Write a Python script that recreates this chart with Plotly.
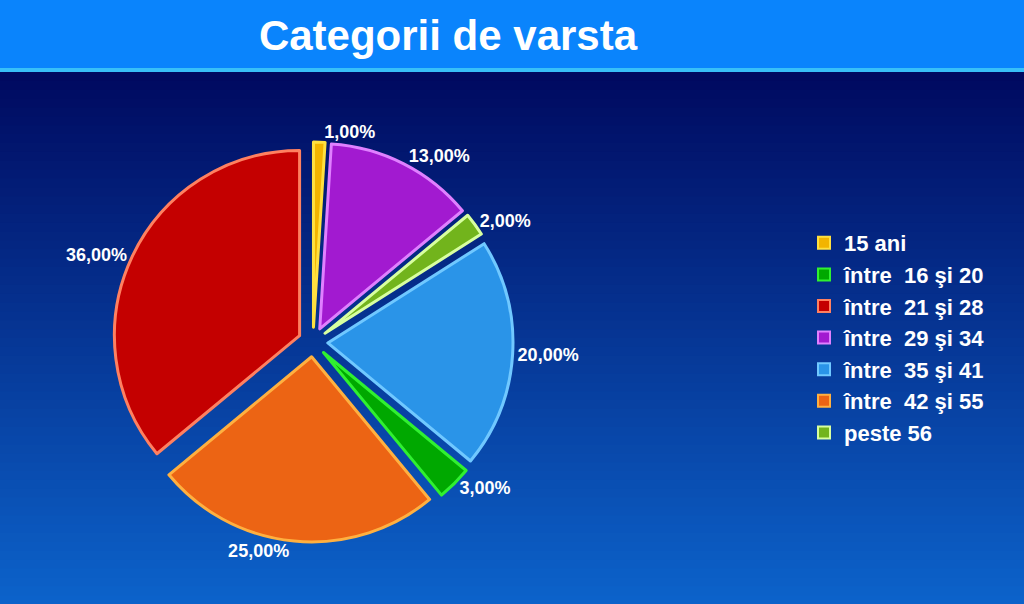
import plotly.graph_objects as go

# data (slice order clockwise from 12 o'clock)
pie_labels = ["15 ani", "între  29 şi 34", "peste 56", "între  35 şi 41",
              "între  16 şi 20", "între  42 şi 55", "între  21 şi 28"]
pie_values = [1, 13, 2, 20, 3, 25, 36]
pie_text = ["1,00%", "13,00%", "2,00%", "20,00%", "3,00%", "25,00%", "36,00%"]

legend_labels = ["15 ani", "între  16 şi 20", "între  21 şi 28", "între  29 şi 34",
                 "între  35 şi 41", "între  42 şi 55", "peste 56"]

fill = {
    "15 ani": "#f2b400",
    "între  16 şi 20": "#00a800",
    "între  21 şi 28": "#c40000",
    "între  29 şi 34": "#a21ad0",
    "între  35 şi 41": "#2a94e8",
    "între  42 şi 55": "#ec6414",
    "peste 56": "#72b41c",
}
edge = {
    "15 ani": "#ffe040",
    "între  16 şi 20": "#30f030",
    "între  21 şi 28": "#ff8060",
    "între  29 şi 34": "#e080ff",
    "între  35 şi 41": "#70c8ff",
    "între  42 şi 55": "#ffb040",
    "peste 56": "#d8ffa0",
}

W, H = 1024, 604

fig = go.Figure()
fig.add_trace(go.Pie(
    labels=pie_labels, values=pie_values, text=pie_text,
    sort=False, direction="clockwise", rotation=0,
    textinfo="text", textposition="outside",
    textfont=dict(family="Liberation Sans, Arial", size=18, color="white", weight="bold"),
    marker=dict(colors=[fill[l] for l in pie_labels],
                line=dict(color=[edge[l] for l in pie_labels], width=3)),
    pull=[0.08] * len(pie_values),
    showlegend=False, hoverinfo="label+text",
    domain=dict(x=[113 / W, 513 / W], y=[1 - 542 / H, 1 - 142 / H]),
    automargin=False,
))

for lab in legend_labels:
    fig.add_trace(go.Scatter(
        x=[None], y=[None], mode="markers", name=lab,
        marker=dict(symbol="square", size=19, color=fill[lab],
                    line=dict(color=edge[lab], width=3)),
    ))

# background gradient
shapes = []
n = 60
top_c = (0, 10, 96)
bot_c = (12, 98, 202)
y0 = 72
for i in range(n):
    t = i / (n - 1)
    c = tuple(int(round(top_c[k] + (bot_c[k] - top_c[k]) * t)) for k in range(3))
    ya = y0 + (H - y0) * i / n
    yb = y0 + (H - y0) * (i + 1) / n + 1
    shapes.append(dict(type="rect", xref="paper", yref="paper", layer="below",
                       x0=0, x1=1, y0=1 - yb / H, y1=1 - ya / H,
                       fillcolor="rgb(%d,%d,%d)" % c, line=dict(width=0)))
shapes.append(dict(type="rect", xref="paper", yref="paper", layer="below",
                   x0=0, x1=1, y0=1 - 68 / H, y1=1, fillcolor="#0a84fc", line=dict(width=0)))
shapes.append(dict(type="rect", xref="paper", yref="paper", layer="below",
                   x0=0, x1=1, y0=1 - 72 / H, y1=1 - 68 / H, fillcolor="#38c0f8", line=dict(width=0)))

fig.update_layout(
    width=W, height=H,
    margin=dict(l=0, r=0, t=0, b=0),
    paper_bgcolor="#000a60", plot_bgcolor="rgba(0,0,0,0)",
    shapes=shapes,
    xaxis=dict(visible=False), yaxis=dict(visible=False),
    title=dict(text="<b>Categorii de varsta</b>", x=448 / W, xanchor="center",
               y=1 - 35 / H, yanchor="middle",
               font=dict(family="Liberation Sans, Arial", size=42, color="white")),
    legend=dict(x=804 / W, y=1 - 222 / H, xanchor="left", yanchor="top",
                bgcolor="rgba(0,0,0,0)", tracegroupgap=0, itemsizing="constant",
                font=dict(family="Liberation Sans, Arial", size=22, color="white", weight="bold")),
)

fig.write_html("out.html")
